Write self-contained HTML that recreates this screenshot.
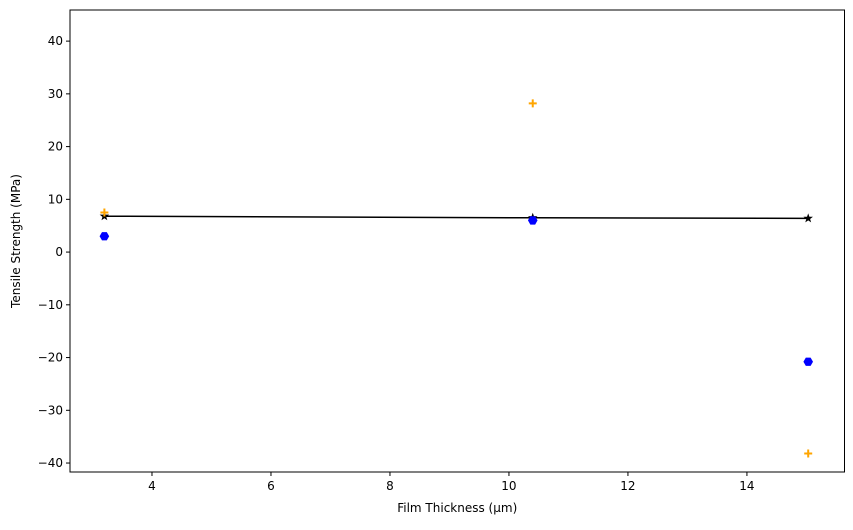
<!DOCTYPE html>
<html><head><meta charset="utf-8"><style>
body{margin:0;background:#fff;font-family:"Liberation Sans","DejaVu Sans",sans-serif}
svg text{font-family:"DejaVu Sans","Liberation Sans",sans-serif;font-size:12px;fill:#000}
</style></head><body>
<svg id="c" width="853" height="525" xmlns="http://www.w3.org/2000/svg"></svg>
<script>
const thickness=[3.2,10.4,15.03];
const seriesBlue=[3,6,-20.8];
const seriesOrange=[7.5,28.2,-38.2];
const seriesFit=[6.8,6.5,6.4];
const xTicks=[4,6,8,10,12,14];
const yTicks=[-40,-30,-20,-10,0,10,20,30,40];
const L=70,R=844.5,T=10,B=472;
const xMin=2.622,xMax=15.64,yMin=-41.7,yMax=45.9;
const X=v=>L+(v-xMin)/(xMax-xMin)*(R-L);
const Y=v=>B-(v-yMin)/(yMax-yMin)*(B-T);
const svg=document.getElementById('c');const NS='http://www.w3.org/2000/svg';
function mk(t,a,p){const e=document.createElementNS(NS,t);for(const k in a)e.setAttribute(k,a[k]);(p||svg).appendChild(e);return e;}
xTicks.forEach(v=>{const g=mk('g',{});


mk('line',{x1:X(v),x2:X(v),y1:B,y2:B+4,stroke:'#000'},g);const t=mk('text',{x:X(v),y:B+18,'text-anchor':'middle'},g);t.textContent=v;});
yTicks.forEach(v=>{const g=mk('g',{});


mk('line',{x1:L-4,x2:L,y1:Y(v),y2:Y(v),stroke:'#000'},g);const t=mk('text',{x:L-7,y:Y(v)+4,'text-anchor':'end'},g);t.textContent=String(v).replace('-','\u2212');});
let t=mk('text',{x:(L+R)/2,y:512,'text-anchor':'middle'});t.textContent='Film Thickness (μm)';


t=mk('text',{x:20,y:(T+B)/2,'text-anchor':'middle',transform:`rotate(-90 20 ${(T+B)/2})`});t.textContent='Tensile Strength (MPa)';


const line=mk('polyline',{points:thickness.map((x,i)=>X(x)+','+Y(seriesFit[i])).join(' '),fill:'none',stroke:'#000','stroke-width':1.5});


thickness.forEach((x,i)=>{const cx=X(x),cy=Y(seriesFit[i]);let p='';for(let k=0;k<10;k++){const r=k%2?2:5,a=-Math.PI/2+k*Math.PI/5;p+=(cx+r*Math.cos(a))+','+(cy+r*Math.sin(a))+' ';}
const s=mk('polygon',{points:p,fill:'#000'});

});
thickness.forEach((x,i)=>{const cx=X(x),cy=Y(seriesBlue[i]);let p='';for(let k=0;k<6;k++){const a=k*Math.PI/3;p+=(cx+4.8*Math.cos(a))+','+(cy+4.8*Math.sin(a))+' ';}
const h=mk('polygon',{points:p,fill:'#0000ff'});

});
thickness.forEach((x,i)=>{const cx=X(x),cy=Y(seriesOrange[i]);
const g=mk('path',{d:`M${cx-4},${cy}H${cx+4}M${cx},${cy-4}V${cy+4}`,stroke:'#ffa500','stroke-width':2});

});
const f=mk('rect',{x:L,y:T,width:R-L,height:B-T,fill:'none',stroke:'#000','stroke-width':1});


</script>
</body></html>
